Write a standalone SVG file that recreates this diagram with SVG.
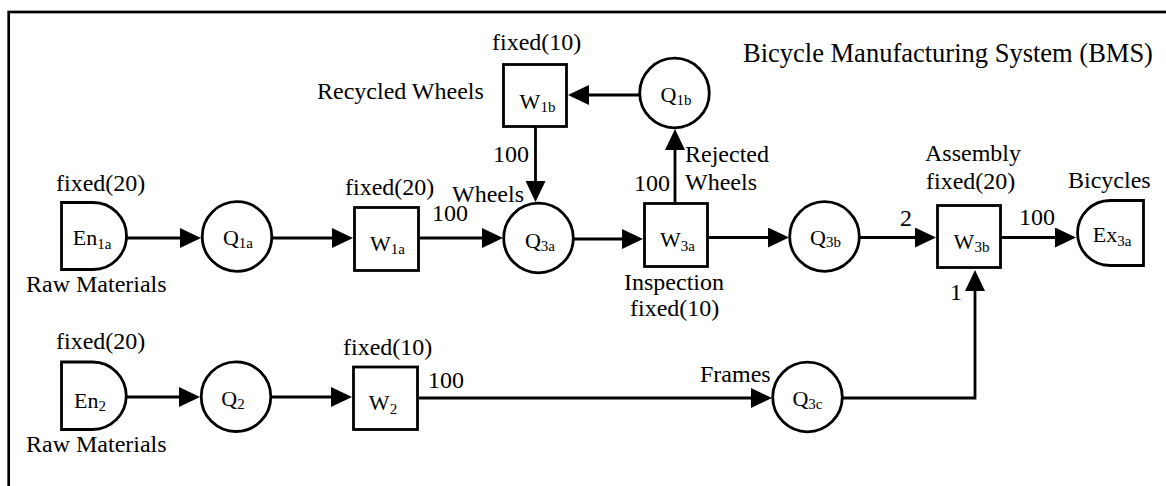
<svg xmlns="http://www.w3.org/2000/svg" width="1166" height="486" viewBox="0 0 1166 486">
<defs>
<marker id="ah" markerUnits="userSpaceOnUse" markerWidth="22" markerHeight="20" refX="11" refY="10" orient="auto">
<path d="M0,0 L21,10 L0,20 Z" fill="#000"/>
</marker>
</defs>
<style>
text{font-family:"Liberation Serif","Times New Roman",serif;fill:#000}
.lbl{font-size:24px}
.nl{font-size:22px;text-anchor:middle}
.nl tspan.s{font-size:15px}
.shape{fill:#fff;stroke:#000;stroke-width:2.8}
.conn path{fill:none;stroke:#000;stroke-width:2.8;marker-end:url(#ah)}
</style>
<rect x="8.7" y="12" width="1200" height="500" fill="#fff" stroke="#000" stroke-width="2.7"/>
<text x="743" y="62" style="font-size:26.5px">Bicycle Manufacturing System (BMS)</text>

<g id="connectors" class="conn">
<path d="M127,238 H191"/>
<path d="M272,238 H343"/>
<path d="M420,238 H493"/>
<path d="M573,239 H633"/>
<path d="M709,237.5 H779"/>
<path d="M859,237.5 H926"/>
<path d="M1001,237.5 H1066"/>
<path d="M640,95 H578"/>
<path d="M535.5,127 V192"/>
<path d="M675,203 V139"/>
<path d="M126,397 H190"/>
<path d="M271,397 H342"/>
<path d="M419,398 H762"/>
<path d="M842,398 H975 V280"/>
</g>

<g id="En1a">
<path class="shape" d="M61.5,202.5 H93 A33.5,33.5 0 0 1 93,269.5 H61.5 Z"/>
<text class="nl" x="92" y="245">En<tspan class="s" dy="4">1a</tspan></text>
<text class="lbl" x="56" y="191">fixed(20)</text>
<text class="lbl" x="26" y="292">Raw Materials</text>
</g>
<g id="Q1a">
<circle class="shape" cx="237" cy="236.5" r="34.8"/>
<text class="nl" x="238" y="245">Q<tspan class="s" dy="3">1a</tspan></text>
</g>
<g id="W1a">
<rect class="shape" x="354.5" y="207.5" width="64" height="63"/>
<text class="nl" x="387.5" y="251">W<tspan class="s" dy="3">1a</tspan></text>
<text class="lbl" x="345" y="195">fixed(20)</text>
<text class="lbl" x="432" y="221">100</text>
</g>
<g id="W1b">
<rect class="shape" x="503.5" y="64.5" width="63" height="62"/>
<text class="nl" x="537.5" y="109">W<tspan class="s" dy="3">1b</tspan></text>
<text class="lbl" x="492" y="50">fixed(10)</text>
<text class="lbl" x="317" y="99">Recycled Wheels</text>
<text class="lbl" x="493" y="162">100</text>
</g>
<g id="Q1b">
<circle class="shape" cx="674.5" cy="93" r="34.8"/>
<text class="nl" x="676" y="102">Q<tspan class="s" dy="3">1b</tspan></text>
</g>
<g id="Q3a">
<circle class="shape" cx="538.5" cy="238" r="34.8"/>
<text class="nl" x="540" y="248">Q<tspan class="s" dy="3">3a</tspan></text>
<text class="lbl" x="452" y="202">Wheels</text>
</g>
<g id="W3a">
<rect class="shape" x="644.5" y="203.5" width="63" height="63"/>
<text class="nl" x="677.5" y="247">W<tspan class="s" dy="4">3a</tspan></text>
<text class="lbl" x="634" y="191">100</text>
<text class="lbl" x="685" y="162">Rejected</text>
<text class="lbl" x="685" y="190">Wheels</text>
<text class="lbl" x="624" y="290">Inspection</text>
<text class="lbl" x="630" y="316">fixed(10)</text>
</g>
<g id="Q3b">
<circle class="shape" cx="824.5" cy="236.5" r="34.8"/>
<text class="nl" x="825.5" y="245">Q<tspan class="s" dy="2">3b</tspan></text>
<text class="lbl" x="900" y="226">2</text>
</g>
<g id="W3b">
<rect class="shape" x="937.5" y="205.5" width="63" height="62"/>
<text class="nl" x="971.5" y="249">W<tspan class="s" dy="3">3b</tspan></text>
<text class="lbl" x="925" y="161">Assembly</text>
<text class="lbl" x="926" y="189">fixed(20)</text>
<text class="lbl" x="1019" y="225">100</text>
<text class="lbl" x="950" y="300">1</text>
</g>
<g id="Ex3a">
<path class="shape" d="M1143.5,200.5 H1110 A32.5,32.5 0 0 0 1110,265.5 H1143.5 Z"/>
<text class="nl" x="1112" y="242">Ex<tspan class="s" dy="4">3a</tspan></text>
<text class="lbl" x="1068" y="188">Bicycles</text>
</g>
<g id="En2">
<path class="shape" d="M61.5,362 H92.5 A33.75,33.75 0 0 1 92.5,429.5 H61.5 Z"/>
<text class="nl" x="90" y="408">En<tspan class="s" dy="3">2</tspan></text>
<text class="lbl" x="56" y="349">fixed(20)</text>
<text class="lbl" x="26" y="452">Raw Materials</text>
</g>
<g id="Q2">
<circle class="shape" cx="236" cy="396.7" r="34.8"/>
<text class="nl" x="233" y="406">Q<tspan class="s" dy="3">2</tspan></text>
</g>
<g id="W2">
<rect class="shape" x="353.5" y="367" width="64" height="62.5"/>
<text class="nl" x="383" y="410">W<tspan class="s" dy="4">2</tspan></text>
<text class="lbl" x="343" y="355">fixed(10)</text>
<text class="lbl" x="428" y="388">100</text>
</g>
<g id="Q3c">
<circle class="shape" cx="807.5" cy="397" r="34.8"/>
<text class="nl" x="807.5" y="406">Q<tspan class="s" dy="3">3c</tspan></text>
<text class="lbl" x="700" y="382">Frames</text>
</g>
</svg>
